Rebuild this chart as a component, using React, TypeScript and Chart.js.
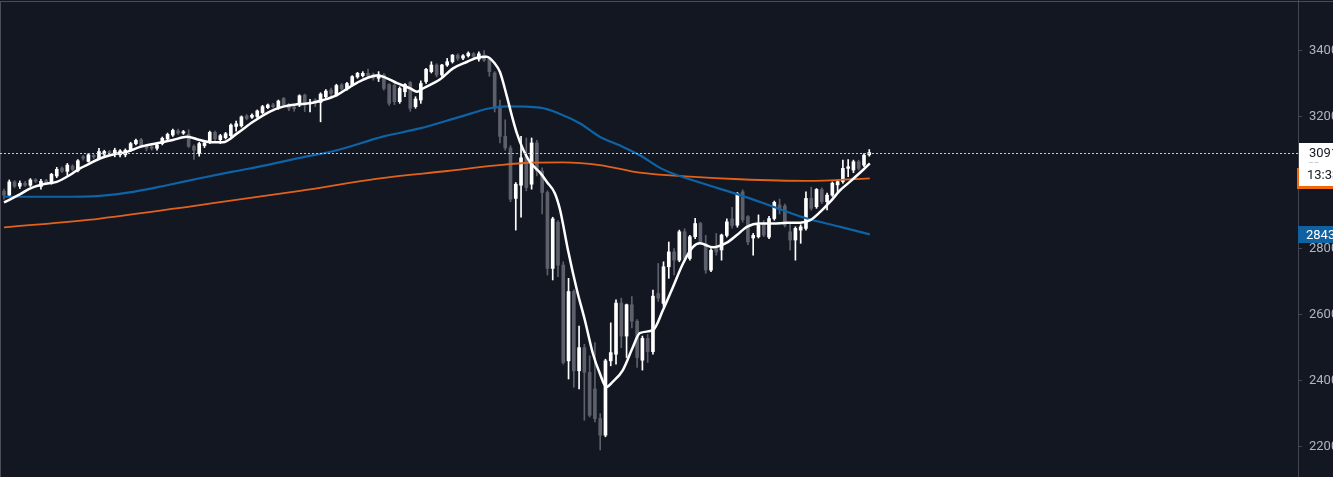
import React, { useEffect, useRef } from 'react';
import { Chart, registerables } from 'chart.js';

Chart.register(...registerables);

// Daily candles (oldest -> newest)
const opens = [
  2974, 2962, 3002, 2989, 2998, 2992, 3008, 2988, 3006, 2998, 3020, 3044, 3034, 3050, 3036, 3078, 3064, 3082, 3074, 3086,
  3094, 3088, 3084, 3084, 3098, 3118, 3130, 3112, 3108, 3104, 3118, 3132, 3144, 3156, 3150, 3146, 3110, 3088, 3112, 3122,
  3152, 3130, 3136, 3142, 3170, 3172, 3202, 3198, 3200, 3212, 3227, 3235, 3227, 3255, 3237, 3229, 3235, 3265, 3240, 3250,
  3243, 3260, 3280, 3265, 3296, 3285, 3295, 3320, 3324, 3331, 3328, 3316, 3326, 3297, 3295, 3245, 3275, 3303, 3230, 3250,
  3306, 3336, 3356, 3326, 3356, 3366, 3386, 3377, 3384, 3390, 3374, 3386, 3376, 3332, 3232, 3140, 3105, 2952, 2992, 3080,
  2995, 3120, 3035, 2970, 2740, 2880, 2750, 2460, 2670, 2430, 2500, 2425, 2375, 2285, 2235, 2460, 2480, 2635, 2535, 2630,
  2580, 2462, 2528, 2488, 2664, 2634, 2745, 2790, 2765, 2851, 2770, 2836, 2876, 2815, 2735, 2800, 2796, 2840, 2890, 2871,
  2972, 2897, 2832, 2836, 2877, 2835, 2891, 2932, 2929, 2851, 2826, 2856, 2861, 2952, 2927, 2979, 2942, 2962, 2993, 3003,
  3043, 3038, 3063, 3053, 3084,
];
const highs = [
  2980, 3008, 3006, 3005, 3004, 3012, 3012, 3010, 3010, 3028, 3046, 3048, 3058, 3054, 3070, 3082, 3088, 3086, 3104, 3098,
  3098, 3104, 3100, 3102, 3122, 3132, 3134, 3116, 3112, 3118, 3138, 3150, 3162, 3162, 3158, 3160, 3114, 3122, 3124, 3156,
  3156, 3146, 3152, 3178, 3186, 3202, 3206, 3208, 3220, 3234, 3238, 3240, 3250, 3258, 3240, 3235, 3266, 3268, 3252, 3254,
  3272, 3282, 3286, 3298, 3300, 3304, 3324, 3334, 3336, 3344, 3332, 3336, 3330, 3300, 3300, 3290, 3300, 3306, 3260, 3308,
  3346, 3366, 3360, 3358, 3376, 3388, 3390, 3388, 3396, 3394, 3396, 3400, 3380, 3336, 3250, 3190, 3112, 3000, 3140, 3135,
  3135, 3128, 3045, 2975, 2895, 2885, 2760, 2710, 2675, 2565, 2510, 2475, 2515, 2300, 2465, 2575, 2645, 2650, 2632, 2655,
  2585, 2535, 2540, 2674, 2755, 2760, 2820, 2800, 2856, 2860, 2840, 2892, 2880, 2840, 2800, 2846, 2844, 2890, 2925, 2970,
  2978, 2900, 2846, 2902, 2885, 2898, 2944, 2950, 2935, 2876, 2866, 2872, 2972, 2986, 2982, 2984, 2968, 3002, 3008, 3068,
  3070, 3068, 3068, 3088, 3100,
];
const lows = [
  2950, 2958, 2985, 2982, 2988, 2988, 3000, 2980, 2994, 2995, 3015, 3030, 3022, 3036, 3032, 3068, 3062, 3072, 3070, 3080,
  3084, 3078, 3078, 3078, 3094, 3114, 3108, 3096, 3098, 3098, 3114, 3128, 3140, 3146, 3146, 3106, 3070, 3080, 3106, 3118,
  3126, 3118, 3132, 3138, 3156, 3168, 3190, 3194, 3196, 3208, 3224, 3226, 3222, 3230, 3218, 3216, 3230, 3215, 3214, 3230,
  3184, 3256, 3256, 3262, 3280, 3280, 3292, 3316, 3320, 3316, 3310, 3306, 3280, 3234, 3236, 3240, 3260, 3216, 3225, 3240,
  3300, 3332, 3320, 3318, 3352, 3362, 3370, 3372, 3380, 3376, 3368, 3366, 3322, 3214, 3120, 3098, 2942, 2856, 2895, 2975,
  2980, 3020, 2905, 2720, 2705, 2715, 2450, 2405, 2380, 2375, 2280, 2290, 2275, 2190, 2230, 2445, 2450, 2500, 2470, 2560,
  2440, 2432, 2455, 2480, 2640, 2625, 2710, 2720, 2760, 2760, 2765, 2830, 2815, 2725, 2730, 2780, 2765, 2835, 2862, 2865,
  2880, 2812, 2780, 2832, 2836, 2830, 2886, 2905, 2866, 2795, 2765, 2816, 2856, 2916, 2922, 2936, 2917, 2958, 2968, 2998,
  3018, 3030, 3038, 3048, 3080,
];
const closes = [
  2962, 3002, 2989, 2998, 2992, 3008, 3004, 3004, 2998, 3025, 3040, 3034, 3053, 3040, 3066, 3074, 3084, 3078, 3094, 3094,
  3090, 3098, 3096, 3098, 3118, 3128, 3112, 3104, 3104, 3114, 3134, 3146, 3158, 3150, 3154, 3110, 3098, 3118, 3120, 3152,
  3132, 3142, 3148, 3174, 3178, 3199, 3194, 3204, 3217, 3230, 3235, 3230, 3247, 3235, 3225, 3224, 3263, 3235, 3243, 3240,
  3268, 3277, 3270, 3294, 3284, 3300, 3321, 3331, 3331, 3324, 3316, 3326, 3285, 3240, 3245, 3285, 3297, 3225, 3253, 3300,
  3343, 3356, 3326, 3356, 3366, 3386, 3376, 3384, 3392, 3382, 3390, 3371, 3336, 3225, 3140, 3105, 2950, 2995, 3075, 2985,
  3120, 3035, 2970, 2740, 2890, 2750, 2455, 2670, 2430, 2500, 2425, 2295, 2285, 2235, 2460, 2485, 2635, 2535, 2630, 2580,
  2470, 2528, 2488, 2656, 2650, 2745, 2790, 2765, 2851, 2770, 2836, 2876, 2820, 2735, 2795, 2790, 2841, 2881, 2870, 2967,
  2887, 2820, 2840, 2871, 2841, 2891, 2940, 2918, 2871, 2826, 2861, 2866, 2952, 2922, 2979, 2942, 2962, 2998, 3003, 3043,
  3048, 3063, 3043, 3083, 3091,
];

// Moving averages: [candle index, value]
const fastMA: [number, number][] = [
  [0, 2940], [3, 2964], [4.9, 2982], [7.4, 2995], [10, 3002], [12.5, 3023], [14.4, 3043], [16.3, 3058], [18.2, 3073],
  [20.7, 3085], [23.3, 3093], [25.8, 3108], [29, 3119], [32, 3129], [34.7, 3139], [37.1, 3129], [39.6, 3122], [41.5, 3122],
  [44.2, 3149], [47.2, 3184], [50.4, 3215], [52.9, 3230], [55.5, 3237], [58, 3240], [60.5, 3250], [63.1, 3265], [65.6, 3290],
  [68, 3311], [70.7, 3324], [71.8, 3321], [74.5, 3301], [77, 3285], [78.3, 3275], [79.4, 3285], [82.6, 3312], [85.1, 3346],
  [87.8, 3366], [89.8, 3379], [91.5, 3381], [93, 3361], [94, 3335], [95.3, 3262], [96.3, 3200], [97.2, 3150], [98.4, 3100],
  [99.7, 3062], [101.6, 3030], [102.9, 3002], [104.4, 2968], [105.4, 2917], [106.9, 2795], [108.6, 2674], [110.1, 2583],
  [111.6, 2483], [112.9, 2423], [114.2, 2381], [115.4, 2397], [117.3, 2432], [119.2, 2502], [120.5, 2544], [123, 2553],
  [124.9, 2614], [126.8, 2684], [128.7, 2755], [130.6, 2805], [131.9, 2816], [134.4, 2804], [137, 2818], [138.9, 2841],
  [140.8, 2866], [143.3, 2876], [145.8, 2876], [148.4, 2878], [150.9, 2878], [152.8, 2886], [154.7, 2911], [156.6, 2942],
  [158.5, 2977], [160.3, 3002], [162.8, 3038], [164.1, 3058],
];
const midMA: [number, number][] = [
  [0, 2957], [10.6, 2957], [18.2, 2960], [24.5, 2972], [30.9, 2992], [37.1, 3013], [43.4, 3033], [49.8, 3053], [56.1, 3075],
  [63.1, 3098], [71.8, 3139], [78.8, 3164], [86.4, 3199], [92.1, 3225], [95.3, 3231], [101.6, 3227], [105.4, 3208],
  [109.2, 3179], [112.9, 3139], [116.8, 3112], [120.5, 3083], [124.9, 3040], [131.9, 3000], [139.5, 2962], [145.8, 2927],
  [152.2, 2891], [158.5, 2866], [164.1, 2843],
];
const slowMA: [number, number][] = [
  [0, 2864], [18.2, 2891], [37.1, 2932], [56.1, 2975], [71.3, 3013], [84, 3035], [93.4, 3052], [99.7, 3060], [106, 3061],
  [112.9, 3053], [120.5, 3030], [130, 3018], [139.5, 3010], [152.2, 3005], [164.1, 3013],
];

const priceTicks = [2200, 2400, 2600, 2800, 3000, 3200, 3400];
const lastPrice = 3091;
const countdown = '13:33';

const BG = '#131722';
const UP = '#ffffff';
const DOWN = '#5d606b';
const BLUE = '#0d63a6';
const ORANGE = '#e2621b';
const AXIS = '#434651';
const TEXT = '#b2b5be';
const FONT = 'Roboto, "DejaVu Sans", sans-serif';

export default function App() {
  const ref = useRef<HTMLCanvasElement>(null);

  useEffect(() => {
    const colors = closes.map((c, i) => (c >= opens[i] ? UP : DOWN));
    const wickData = opens.map((_, i) => ({ x: i, y: [lows[i], highs[i]] }));
    const bodyData = opens.map((o, i) => ({ x: i, y: [o, closes[i]] }));

    const bgPlugin = {
      id: 'bg',
      beforeDraw(chart: any) {
        const { ctx, width, height } = chart;
        ctx.save();
        ctx.fillStyle = BG;
        ctx.fillRect(0, 0, width, height);
        ctx.restore();
      },
    };

    const overlayPlugin = {
      id: 'overlay',
      afterDraw(chart: any) {
        const { ctx, chartArea, width } = chart;
        const y = chart.scales.y;
        ctx.save();
        // frame
        ctx.fillStyle = '#4a4d57';
        ctx.fillRect(0, 1, width, 1);
        ctx.fillRect(0, 1, 1, chart.height);

        // last price dotted line
        const yp = Math.round(y.getPixelForValue(lastPrice)) + 0.5;
        ctx.strokeStyle = '#c9cbd1';
        ctx.lineWidth = 1;
        ctx.setLineDash([2, 2]);
        ctx.beginPath();
        ctx.moveTo(chartArea.left, yp);
        ctx.lineTo(chartArea.right + 4, yp);
        ctx.stroke();
        ctx.setLineDash([]);

        const ax = chartArea.right;
        ctx.textBaseline = 'middle';
        ctx.textAlign = 'left';

        // blue MA label
        const midLast = midMA[midMA.length - 1][1];
        const yb = y.getPixelForValue(midLast);
        ctx.fillStyle = '#1160a0';
        ctx.fillRect(ax, Math.round(yb - 8), 40, 17);
        ctx.fillStyle = '#ffffff';
        ctx.font = `13px ${FONT}`;
        ctx.fillText(String(midLast), ax + 8, yb + 1);

        // orange MA label (mostly hidden)
        const slowLast = slowMA[slowMA.length - 1][1];
        const yo = y.getPixelForValue(slowLast);
        ctx.fillStyle = '#f0690f';
        ctx.fillRect(ax - 1, Math.round(yo - 10), 40, 21);

        // last price label with countdown
        const ypp = y.getPixelForValue(lastPrice);
        ctx.fillStyle = '#ffffff';
        ctx.fillRect(ax + 1, Math.round(ypp - 10), 40, 43);
        ctx.fillStyle = '#131722';
        ctx.font = `13px ${FONT}`;
        ctx.fillText(String(lastPrice), ax + 11, ypp + 1);
        ctx.fillStyle = '#8a8d96';
        ctx.font = `7px ${FONT}`;
        ctx.fillText('-- --', ax + 11, ypp + 11);
        ctx.fillStyle = '#131722';
        ctx.font = `13px ${FONT}`;
        ctx.fillText(countdown, ax + 9, ypp + 23);
        ctx.restore();
      },
    };

    const lineDs = (pts: [number, number][], color: string, w: number, order: number) => ({
      type: 'line',
      data: pts.map(([x, v]) => ({ x, y: v })),
      borderColor: color,
      borderWidth: w,
      pointRadius: 0,
      cubicInterpolationMode: 'monotone',
      order,
    });

    const chart = new Chart(ref.current as HTMLCanvasElement, {
      type: 'bar',
      data: {
        datasets: [
          lineDs(fastMA, '#ffffff', 2.5, 0),
          lineDs(midMA, BLUE, 2.2, 1),
          lineDs(slowMA, ORANGE, 1.8, 1),
          {
            type: 'bar',
            data: wickData,
            backgroundColor: colors,
            barThickness: 1,
            grouped: false,
            borderWidth: 0,
            order: 3,
          },
          {
            type: 'bar',
            data: bodyData,
            backgroundColor: colors,
            barThickness: 3,
            grouped: false,
            borderWidth: 0,
            order: 2,
          },
        ],
      } as any,
      options: {
        animation: false,
        responsive: false,
        maintainAspectRatio: false,
        events: [],
        layout: { padding: 0 },
        plugins: { legend: { display: false }, tooltip: { enabled: false } },
        scales: {
          x: { type: 'linear', display: false, min: -0.758, max: 245.26, offset: false },
          y: {
            position: 'right',
            min: 2108.2,
            max: 3553,
            afterBuildTicks: (s: any) => {
              s.ticks = priceTicks.map((v) => ({ value: v }));
            },
            afterFit: (s: any) => {
              s.width = 35;
              s.paddingTop = 0;
              s.paddingBottom = 0;
            },
            ticks: {
              color: TEXT,
              font: { size: 13, family: FONT },
              padding: 7,
              autoSkip: false,
              callback: (v: any) => String(v),
            },
            grid: { display: true, drawOnChartArea: false, tickLength: 4, color: AXIS },
            border: { display: true, color: AXIS },
          },
        },
      } as any,
      plugins: [bgPlugin, overlayPlugin],
    });
    return () => chart.destroy();
  }, []);

  return (
    <div style={{ position: 'fixed', left: 0, top: 0, width: 1333, height: 477, background: BG }}>
      <canvas ref={ref} width={1333} height={477} style={{ display: 'block' }} />
    </div>
  );
}
